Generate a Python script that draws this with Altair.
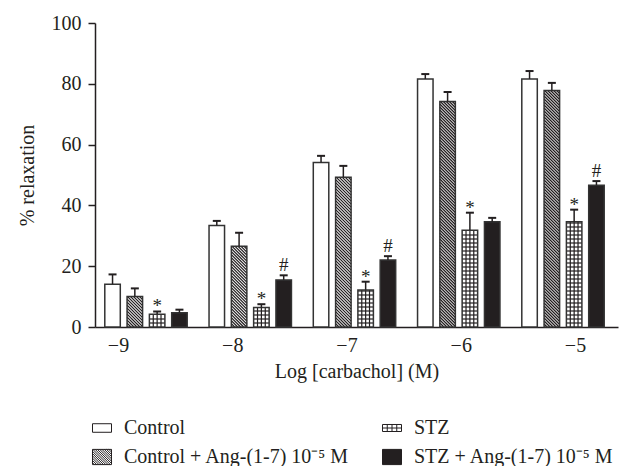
import altair as alt
import pandas as pd

# ---------------- data ----------------
conc = [-9, -8, -7, -6, -5]
series_names = ["Control", "Control + Ang-(1-7) 10⁻⁵ M", "STZ", "STZ + Ang-(1-7) 10⁻⁵ M"]

control = [14.1, 33.4, 54.1, 81.6, 81.6]
control_err = [3.2, 1.5, 2.2, 1.6, 2.6]
control_ang = [10.0, 26.6, 49.3, 74.2, 77.8]
control_ang_err = [2.7, 4.4, 3.7, 3.1, 2.5]
stz = [4.2, 6.4, 12.2, 31.8, 34.6]
stz_err = [0.9, 1.1, 2.7, 5.8, 4.0]
stz_ang = [4.7, 15.5, 22.0, 34.6, 46.6]
stz_ang_err = [1.0, 1.5, 1.3, 1.3, 1.4]

sig_stz = ["*", "*", "*", "*", "*"]
sig_stz_ang = ["", "#", "#", "", "#"]

values = [control, control_ang, stz, stz_ang]
errors = [control_err, control_ang_err, stz_err, stz_ang_err]
sigs = [[""] * 5, [""] * 5, sig_stz, sig_stz_ang]

# ---------------- layout / style ----------------
PLOT_W, PLOT_H = 523, 304
X_DOMAIN = [-9.2013, -4.6236]
KX = PLOT_W / (X_DOMAIN[1] - X_DOMAIN[0])   # px per x unit
KY = PLOT_H / 100.0                          # px per y unit
GROUP0 = -8.755
GROUP_STEP = 0.9125
BAR_STEP = 22.3 / KX
BAR_HALF = 7.75 / KX
CAP_HALF = 4.0 / KX
HATCH_STEP = 3.0
GRID_STEP = 4.0
INK = "#231f20"
FILLS = ["#ffffff", "#ffffff", "#ffffff", INK]
FONT = "Liberation Serif"

rows = []
for j, name in enumerate(series_names):
    for i, c in enumerate(conc):
        v = values[j][i]
        e = errors[j][i]
        xc = GROUP0 + (c - conc[0]) * GROUP_STEP + (j - 1.5) * BAR_STEP
        rows.append(dict(conc=c, series=name, value=v, err=e, top=v + e,
                         sig=sigs[j][i], xc=xc, xl=xc - BAR_HALF, xr=xc + BAR_HALF,
                         cl=xc - CAP_HALF, cr=xc + CAP_HALF, fillc=FILLS[j], zero=0))
df = pd.DataFrame(rows)

# diagonal hatch for "Control + Ang" bars
hatch = []
for _, r in df[df.series == series_names[1]].iterrows():
    w = 2 * BAR_HALF * KX
    h = r.value * KY
    c = -w
    while c < h:
        p0 = max(0.0, -c)
        p1 = min(w, h - c)
        if p1 > p0 + 0.3:
            hatch.append(dict(x=r.xl + p0 / KX, y=r.value - (p0 + c) / KY,
                              x2=r.xl + p1 / KX, y2=r.value - (p1 + c) / KY))
        c += HATCH_STEP
hatch_df = pd.DataFrame(hatch)

# grid pattern for "STZ" bars
grid = []
for _, r in df[df.series == series_names[2]].iterrows():
    w = 2 * BAR_HALF * KX
    h = r.value * KY
    for f in (0.25, 0.5, 0.75):
        xx = r.xl + f * w / KX
        grid.append(dict(x=xx, x2=xx, y=0, y2=r.value))
    k = 1
    while k * GRID_STEP < h - 1:
        yy = k * GRID_STEP / KY
        grid.append(dict(x=r.xl, x2=r.xr, y=yy, y2=yy))
        k += 1
grid_df = pd.DataFrame(grid)

# legend symbol paths
def hatch_path(hh, step):
    parts = [f"M-1,{-hh}H1V{hh}H-1Z"]
    c = -2.0
    while c < 2.0:
        x0 = max(-1.0, -hh - c)
        x1 = min(1.0, hh - c)
        if x1 > x0 + 0.02:
            parts.append(f"M{x0:.3f},{x0 + c:.3f}L{x1:.3f},{x1 + c:.3f}")
        c += step
    return "".join(parts)

# legend fills column by column: first column Control / Control+Ang, second STZ / STZ+Ang
legend_order = [series_names[0], series_names[1], series_names[2], series_names[3]]
shape_paths = {
    series_names[0]: "M-1,-0.45H1V0.45H-1Z",
    series_names[1]: hatch_path(0.8, 0.24),
    series_names[2]: "M-1,-0.37H1V0.37H-1ZM-0.5,-0.37V0.37M0,-0.37V0.37M0.5,-0.37V0.37M-1,0H1",
    series_names[3]: "M-1,-0.8H1V0.8H-1Z",
}
legend_fill = {series_names[0]: "#ffffff", series_names[1]: "#ffffff",
               series_names[2]: "#ffffff", series_names[3]: INK}

x_scale = alt.Scale(domain=X_DOMAIN, nice=False, zero=False)
y_scale = alt.Scale(domain=[0, 100], nice=False)

x_axis = alt.Axis(values=conc, format="d", ticks=False, tickSize=0, labelPadding=8,
                  grid=False, title="Log [carbachol] (M)", titlePadding=6,
                  domainColor=INK, domainWidth=1.5, labelFont=FONT, labelFontSize=20,
                  labelColor=INK, titleFont=FONT, titleFontSize=20, titleColor=INK,
                  titleFontWeight="normal")
y_axis = alt.Axis(values=[0, 20, 40, 60, 80, 100], tickSize=7, labelPadding=7, grid=False,
                  title="% relaxation", titleX=-68, titleY=152, titleAngle=270,
                  titleBaseline="middle", titleAlign="center",
                  domainColor=INK, domainWidth=1.5, tickColor=INK, tickWidth=1.5,
                  labelFont=FONT, labelFontSize=20, labelColor=INK,
                  titleFont=FONT, titleFontSize=20, titleColor=INK, titleFontWeight="normal")

base = alt.Chart(df)

bars_fill = base.mark_rect(strokeWidth=0).encode(
    x=alt.X("xl:Q", scale=x_scale, axis=x_axis),
    x2="xr:Q",
    y=alt.Y("value:Q", scale=y_scale, axis=y_axis),
    y2="zero:Q",
    fill=alt.Fill("fillc:N", scale=None),
)

hatch_layer = alt.Chart(hatch_df).mark_rule(color=INK, strokeWidth=1.3).encode(
    x="x:Q", x2="x2:Q", y="y:Q", y2="y2:Q")
grid_layer = alt.Chart(grid_df).mark_rule(color=INK, strokeWidth=1.2).encode(
    x="x:Q", x2="x2:Q", y="y:Q", y2="y2:Q")

bars_outline = base.mark_rect(fillOpacity=0, stroke="#333333", strokeWidth=1.5).encode(
    x="xl:Q", x2="xr:Q", y="value:Q", y2="zero:Q")

err_rule = base.mark_rule(color=INK, strokeWidth=1.5).encode(
    x="xc:Q", y="value:Q", y2="top:Q")
err_cap = base.mark_rule(color=INK, strokeWidth=2).encode(
    x="cl:Q", x2="cr:Q", y="top:Q")

star = base.transform_filter("datum.sig == '*'").mark_text(
    font=FONT, fontSize=19, color=INK, baseline="alphabetic", align="center", dy=1
).encode(x="xc:Q", y="top:Q", text="sig:N")
hashm = base.transform_filter("datum.sig == '#'").mark_text(
    font=FONT, fontSize=19, color=INK, baseline="alphabetic", align="center", dy=-4
).encode(x="xc:Q", y="top:Q", text="sig:N")

leg = alt.Legend(title=None, orient="none", legendX=-3, legendY=395, columns=2,
                 columnPadding=30, rowPadding=9, symbolSize=361, symbolStrokeWidth=1,
                 labelFont=FONT, labelFontSize=20, labelColor=INK, labelLimit=500,
                 labelOffset=12, padding=0)

legend_layer = base.transform_filter("false").mark_point(filled=True, size=361, opacity=1).encode(
    x="xc:Q", y="value:Q",
    shape=alt.Shape("series:N", scale=alt.Scale(domain=legend_order,
                    range=[shape_paths[s] for s in legend_order]), legend=leg),
    fill=alt.Fill("series:N", scale=alt.Scale(domain=legend_order,
                  range=[legend_fill[s] for s in legend_order]), legend=leg),
    stroke=alt.Stroke("series:N", scale=alt.Scale(domain=legend_order,
                      range=[INK] * 4), legend=leg),
)

chart = alt.layer(
    bars_fill, hatch_layer, grid_layer, bars_outline, err_rule, err_cap, star, hashm, legend_layer
).properties(
    width=PLOT_W, height=PLOT_H,
    autosize=alt.AutoSizeParams(type="none"),
    padding={"left": 95, "top": 23, "right": 20, "bottom": 139},
    background="white",
).configure_view(stroke=None)

chart.save("out.html", embed_options={"renderer": "svg", "actions": False})
